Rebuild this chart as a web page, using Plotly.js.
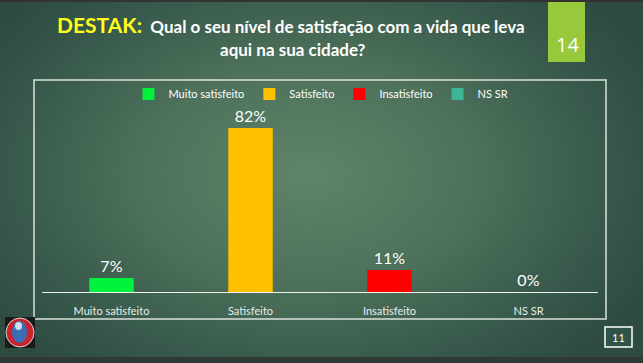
<!DOCTYPE html>
<html>
<head>
<meta charset="utf-8">
<script src="https://cdn.plot.ly/plotly-3.0.1.min.js"></script>
<style>
  html, body { margin:0; padding:0; }
  body {
    width:643px; height:363px; overflow:hidden;
    background: radial-gradient(ellipse 60% 70% at 48% 48%, #5f8469 0%, #4c705a 45%, #36574a 80%, #2e4b40 100%);
    box-shadow: inset 0 2px 0 #333, inset 0 -6px 0 #2f3a35;
  }
  #chart { width:643px; height:363px; }
</style>
</head>
<body>
<div id="chart"></div>
<script>
// ---- data ----
const categories = ["Muito satisfeito", "Satisfeito", "Insatisfeito", "NS SR"];
const values = [7, 82, 11, 0];
const seriesNames = ["Muito satisfeito", "Satisfeito", "Insatisfeito", "NS SR"];
const colors = ["#00F23C", "#FFC000", "#FF0000", "#3DB596"];
const titleLead = "DESTAK:";
const titleLine1 = "Qual o seu nível de satisfação com a vida que leva";
const titleLine2 = "aqui na sua cidade?";
const questionNumber = "14";
const pageNumber = "11";

// ---- layout geometry helpers (pixel -> paper coordinates) ----
const W = 643, H = 363;
const mL = 42, mR = 45, mT = 80, mB = 71;
const pw = W - mL - mR, ph = H - mT - mB;
const px = x => (x - mL) / pw;
const py = y => (H - mB - y) / ph;

const font = "Lato, 'Open Sans', 'DejaVu Sans', sans-serif";

const traces = categories.map((c, i) => ({
  type: "bar",
  name: seriesNames[i],
  x: [c],
  y: [values[i]],
  width: 0.32,
  marker: { color: colors[i] },
  text: [values[i] + "%"],
  textposition: "outside",
  constraintext: "none",
  cliponaxis: false,
  textfont: { color: "#ffffff", size: 16, family: font },
  hoverinfo: "skip"
}));

const layout = {
  width: W, height: H,
  margin: { l: mL, r: mR, t: mT, b: mB, pad: 0, autoexpand: false },
  paper_bgcolor: "rgba(0,0,0,0)",
  plot_bgcolor: "rgba(0,0,0,0)",
  barmode: "overlay",
  showlegend: true,
  legend: {
    orientation: "h",
    x: px(321), xanchor: "center",
    y: py(94), yanchor: "middle",
    font: { color: "#ffffff", size: 11, family: font },
    itemwidth: 30,
    tracegroupgap: 0,
    traceorder: "normal",
    bgcolor: "rgba(0,0,0,0)"
  },
  xaxis: {
    type: "category",
    categoryorder: "array",
    categoryarray: categories,
    showline: true, linecolor: "#eef2ee", linewidth: 1.4,
    ticks: "outside", ticklen: 8, tickcolor: "rgba(0,0,0,0)",
    tickangle: 0,
    tickfont: { color: "#e6ece6", size: 11, family: font },
    showgrid: false, zeroline: false, fixedrange: true
  },
  yaxis: {
    range: [0, 106],
    visible: false, showgrid: false, zeroline: false, fixedrange: true
  },
  shapes: [
    // chart frame
    { type: "rect", xref: "paper", yref: "paper",
      x0: px(34), x1: px(606), y0: py(319), y1: py(80),
      line: { color: "#d9e2da", width: 1.5 }, fillcolor: "rgba(0,0,0,0)" },
    // question number box
    { type: "rect", xref: "paper", yref: "paper",
      x0: px(548), x1: px(585), y0: py(62), y1: py(2),
      line: { width: 0 }, fillcolor: "#98C93C" },
    // page number box
    { type: "rect", xref: "paper", yref: "paper",
      x0: px(605), x1: px(632), y0: py(347), y1: py(327),
      line: { color: "#ffffff", width: 1.5 }, fillcolor: "#2f5346" },
    // logo
    { type: "rect", xref: "paper", yref: "paper",
      x0: px(5), x1: px(35), y0: py(348), y1: py(317),
      line: { width: 0 }, fillcolor: "#1a1a1a" },
    { type: "circle", xref: "paper", yref: "paper",
      x0: px(6), x1: px(34), y0: py(347), y1: py(318),
      line: { color: "#d8d8d8", width: 1 }, fillcolor: "#c8262c" },
    { type: "circle", xref: "paper", yref: "paper",
      x0: px(12), x1: px(27), y0: py(343), y1: py(321),
      line: { width: 0 }, fillcolor: "#3a6fb5" },
    { type: "circle", xref: "paper", yref: "paper",
      x0: px(15), x1: px(22), y0: py(330), y1: py(322),
      line: { width: 0 }, fillcolor: "#cfe0f0" }
  ],
  annotations: [
    { xref: "paper", yref: "paper", x: px(291), y: py(24),
      xanchor: "center", yanchor: "middle", showarrow: false,
      text: "<b><span style='color:#FFFF1A;font-size:21px'>" + titleLead + "</span>  " + titleLine1 + "</b>",
      font: { color: "#ffffff", size: 17, family: font } },
    { xref: "paper", yref: "paper", x: px(293), y: py(50),
      xanchor: "center", yanchor: "middle", showarrow: false,
      text: "<b>" + titleLine2 + "</b>",
      font: { color: "#ffffff", size: 17, family: font } },
    { xref: "paper", yref: "paper", x: px(567), y: py(44),
      xanchor: "center", yanchor: "middle", showarrow: false,
      text: questionNumber,
      font: { color: "#ffffff", size: 20, family: "'Open Sans', Lato, sans-serif" } },
    { xref: "paper", yref: "paper", x: px(618.5), y: py(337),
      xanchor: "center", yanchor: "middle", showarrow: false,
      text: pageNumber,
      font: { color: "#ffffff", size: 11, family: font } }
  ]
};

Plotly.newPlot("chart", traces, layout, { displayModeBar: false, staticPlot: true });
</script>
</body>
</html>
